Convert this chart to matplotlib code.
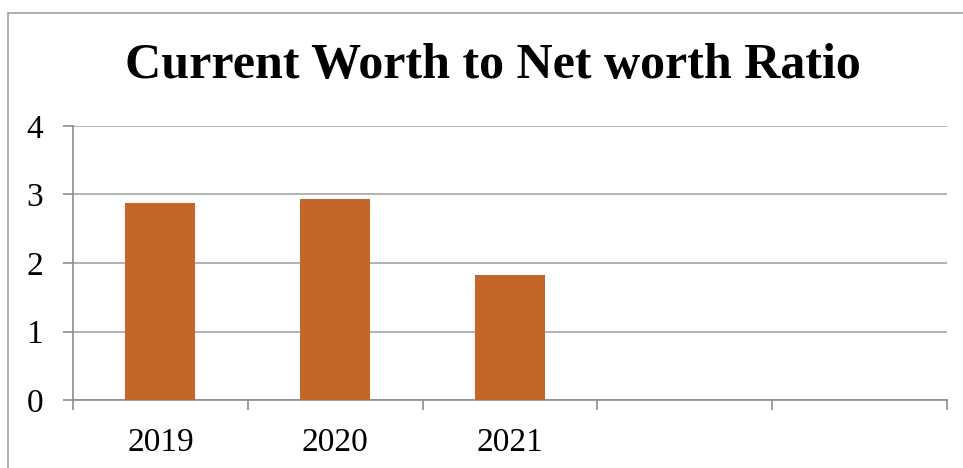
import numpy as np
import matplotlib.pyplot as plt
from matplotlib.patches import Rectangle

# Chart data
years = ['2019', '2020', '2021', '', '']
ratio = [2.87, 2.93, 1.82]

bar_color = '#C4662A'
grid_color = '#A6A6A6'
axis_color = '#8C8C8C'

fig = plt.figure(figsize=(9.63, 4.68), dpi=100)
W, H = 963, 468

# outer chart border (cropped at right/bottom)
fig.patches.append(Rectangle((8 / W, -0.2), 2, 1.2 - 13 / H, transform=fig.transFigure,
                             fill=False, edgecolor='#A0A0A0', linewidth=1.2))

ax = fig.add_axes([73 / W, 1 - 400 / H, (947 - 73) / W, (400 - 126) / H])

x = np.arange(len(years))
ax.bar(x[:len(ratio)], ratio, width=0.4, color=bar_color, zorder=3)

ax.set_xlim(-0.5, len(years) - 0.5)
ax.set_ylim(0, 4)
ax.set_yticks([0, 1, 2, 3, 4])
ax.yaxis.grid(True, color=grid_color, linewidth=1.2)
ax.set_axisbelow(True)

# category labels without ticks, tick marks at boundaries
ax.set_xticks(x)
ax.set_xticklabels(years)
ax.set_xticks(np.arange(-0.5, len(years)), minor=True)
ax.tick_params(axis='x', which='major', length=0, pad=20, labelsize=24)
ax.tick_params(axis='x', which='minor', length=7.5, width=1.2, color=axis_color)
ax.tick_params(axis='y', length=7.5, width=1.2, color=axis_color, pad=14, labelsize=24)

for lbl in ax.get_xticklabels() + ax.get_yticklabels():
    lbl.set_fontfamily('Liberation Serif')

for s in ['top', 'right']:
    ax.spines[s].set_visible(False)
for s in ['left', 'bottom']:
    ax.spines[s].set_color(axis_color)
    ax.spines[s].set_linewidth(1.2)

fig.text(493 / W, 1 - 66 / H, 'Current Worth to Net worth Ratio', ha='center', va='center',
         fontsize=36, fontweight='bold', fontfamily='Liberation Serif')

fig.savefig('out.png', dpi=100)
